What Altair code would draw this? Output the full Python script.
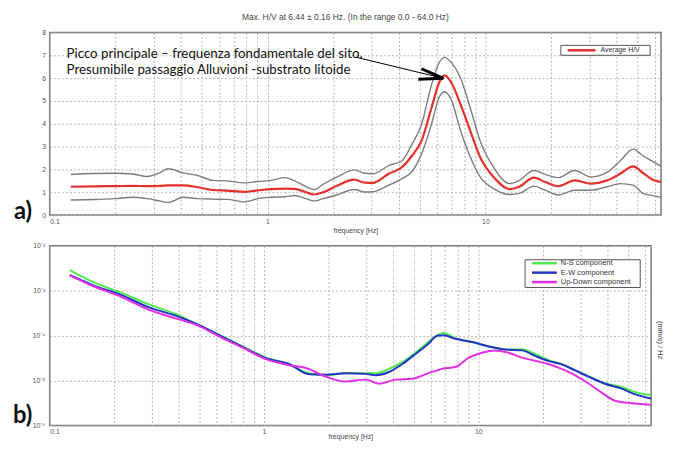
import math
import altair as alt
import pandas as pd

# ---------------- Panel a) : H/V ratio ----------------
hv_freq = [0.125, 0.16, 0.2, 0.24, 0.28, 0.32, 0.35, 0.41, 0.48, 0.56, 0.65, 0.79, 0.9,
           1.04, 1.2, 1.33, 1.5, 1.64, 1.8, 2.08, 2.5, 2.8, 3.04, 3.6, 4.14, 4.6, 5.09,
           5.65, 6.15, 6.5, 6.95, 7.7, 8.53, 9.46, 10.9, 12.9, 14.3, 16.7, 18.8, 21.6,
           25.7, 30.5, 36.3, 41.6, 47.7, 52.9, 58.6, 64.0]
hv_avg = [1.24, 1.26, 1.27, 1.28, 1.27, 1.28, 1.30, 1.30, 1.22, 1.10, 1.07, 1.02, 1.08,
          1.14, 1.16, 1.15, 1.00, 0.90, 1.00, 1.28, 1.55, 1.42, 1.41, 1.81, 2.10, 2.60, 3.25,
          4.68, 5.83, 6.12, 5.83, 4.83, 3.68, 2.53, 1.67, 1.14, 1.24, 1.64, 1.45, 1.27,
          1.52, 1.38, 1.52, 1.81, 2.13, 1.84, 1.55, 1.45]
hv_upper = [1.78, 1.82, 1.83, 1.80, 1.69, 1.85, 2.03, 1.85, 1.73, 1.52, 1.50, 1.41, 1.47,
            1.52, 1.64, 1.50, 1.25, 1.12, 1.35, 1.66, 1.98, 1.83, 1.81, 2.17, 2.38, 3.10, 3.97,
            5.69, 6.70, 6.91, 6.70, 5.98, 4.68, 3.25, 2.10, 1.38, 1.52, 1.95, 1.78, 1.64,
            1.95, 1.67, 1.88, 2.38, 2.89, 2.60, 2.35, 2.13]
hv_lower = [0.66, 0.68, 0.72, 0.78, 0.72, 0.62, 0.55, 0.78, 0.72, 0.70, 0.69, 0.58, 0.72,
            0.78, 0.80, 0.86, 0.72, 0.62, 0.72, 0.88, 1.12, 1.01, 1.02, 1.31, 1.60, 1.90, 2.67,
            3.97, 5.19, 5.40, 5.08, 3.68, 2.53, 1.67, 1.16, 0.90, 0.95, 1.27, 1.09, 0.88,
            1.09, 1.09, 1.24, 1.38, 1.31, 0.95, 0.85, 0.78]
hv_names = ["Average H/V"]
hv_title = "Max. H/V at 6.44 \u00b1 0.16 Hz. (In the range 0.0 - 64.0 Hz)"
note_lines = ["Picco principale \u2013 frequenza fondamentale del sito.",
              "Presumibile passaggio Alluvioni -substrato litoide"]
# arrow (frequency, H/V): main shaft and the two arms of the head
arrow_f1 = [2.56, 5.09, 4.92]
arrow_v1 = [6.91, 6.41, 5.95]
arrow_f2 = [6.41, 6.41, 6.41]
arrow_v2 = [5.99, 5.99, 5.99]
arrow_w = [1.0, 3.0, 3.0]

# ---------------- Panel b) : spectra ----------------
ns_freq = [0.124, 0.16, 0.212, 0.293, 0.39, 0.483, 0.643, 0.795, 1.02, 1.31, 1.62, 1.94,
           2.4, 2.98, 3.32, 3.83, 4.42, 5.09, 5.88, 6.43, 6.9, 7.82, 9.35, 11.2, 13.4, 16.0,
           18.4, 21.2, 24.5, 28.2, 32.6, 39.0, 46.6, 53.7, 64.0]
ns_vals = [2.88e-3, 1.55e-3, 9.3e-4, 4.9e-4, 3.0e-4, 1.82e-4, 9.5e-5, 5.75e-5, 3.24e-5,
           2.29e-5, 1.45e-5, 1.32e-5, 1.45e-5, 1.45e-5, 1.45e-5, 1.82e-5, 2.57e-5, 4.17e-5,
           7.4e-5, 1.02e-4, 1.15e-4, 8.7e-5, 7.2e-5, 5.75e-5, 4.9e-5, 5.0e-5, 3.9e-5, 2.88e-5,
           2.34e-5, 1.7e-5, 1.26e-5, 8.7e-6, 7.2e-6, 5.6e-6, 4.7e-6]
ew_freq = ns_freq
ew_vals = [2.24e-3, 1.32e-3, 8.3e-4, 4.2e-4, 2.75e-4, 1.82e-4, 9.3e-5, 5.6e-5, 3.16e-5,
           2.34e-5, 1.38e-5, 1.35e-5, 1.45e-5, 1.41e-5, 1.32e-5, 1.55e-5, 2.34e-5, 3.9e-5,
           6.8e-5, 1.0e-4, 1.02e-4, 8.5e-5, 7.2e-5, 5.75e-5, 4.9e-5, 4.7e-5, 3.55e-5, 2.75e-5,
           2.29e-5, 1.7e-5, 1.23e-5, 8.5e-6, 6.6e-6, 5.0e-6, 4.0e-6]
ud_freq = [0.124, 0.16, 0.212, 0.293, 0.39, 0.483, 0.643, 0.795, 1.02, 1.31, 1.57, 1.94,
           2.4, 2.98, 3.44, 4.11, 4.92, 5.88, 6.78, 7.82, 9.02, 10.4, 12.0, 13.8, 16.0, 18.4,
           21.2, 24.5, 28.2, 32.6, 37.6, 43.4, 50.0, 64.0]
ud_vals = [2.24e-3, 1.26e-3, 7.6e-4, 3.7e-4, 2.4e-4, 1.74e-4, 8.7e-5, 5.4e-5, 3.0e-5,
           2.19e-5, 1.9e-5, 1.23e-5, 9.5e-6, 1.05e-5, 8.5e-6, 1.05e-5, 1.1e-5, 1.48e-5,
           1.82e-5, 2.0e-5, 3.24e-5, 4.17e-5, 4.7e-5, 4.17e-5, 3.24e-5, 2.75e-5, 2.34e-5,
           1.82e-5, 1.32e-5, 8.7e-6, 5.4e-6, 3.55e-6, 3.2e-6, 2.9e-6]
spec_names = ["N-S component", "E-W component", "Up-Down component"]
spec_colors = ["#4cec4c", "#2434c4", "#e42de4"]
spec_unit = "(mm/s) / Hz"

# ---------------- axes ----------------
x_ticks = [0.1, 0.2, 0.3, 0.4, 0.5, 0.6, 0.7, 0.8, 0.9, 1, 2, 3, 4, 5, 6, 7, 8, 9,
           10, 20, 30, 40, 50, 60]
x_labelled = [0.1, 1, 10]
hv_ticks = [0, 1, 2, 3, 4, 5, 6, 7, 8]
sp_ticks = [1e-6, 1e-5, 1e-4, 1e-3, 1e-2]
sp_tick_labels = ["10\u207b\u2076", "10\u207b\u2075", "10\u207b\u2074", "10\u207b\u00b3", "10\u207b\u00b2"]

FONT = "Liberation Sans"
W1, H1 = 616, 184
W2, H2 = 606, 181

x_expr = " || ".join(f"datum.value == {v}" for v in x_labelled) + " ? datum.label : ''"
y2_expr = "''"
for v, lab in zip(sp_ticks, sp_tick_labels):
    y2_expr = f"abs(log(datum.value)/LN10 - ({round(math.log10(v))})) < 0.1 ? '{lab}' : " + y2_expr

x_scale = alt.Scale(type="log", domain=[0.1, 64], nice=False)
x_axis_top = alt.Axis(values=x_ticks, format="~g", labelExpr=x_expr, title="frequency [Hz]",
                      titlePadding=3, labelPadding=2)
x_axis_bot = alt.Axis(values=x_ticks, format="~g", labelExpr=x_expr, title="frequency [Hz]",
                      titlePadding=-2, labelPadding=2)

# ---------- top ----------
df_hv = pd.concat([
    pd.DataFrame({"freq": hv_freq, "value": hv_upper, "series": "upper"}),
    pd.DataFrame({"freq": hv_freq, "value": hv_lower, "series": "lower"}),
])
df_avg = pd.DataFrame({"freq": hv_freq, "value": hv_avg, "series": hv_names[0]})

X1 = alt.X("freq:Q", scale=x_scale, axis=x_axis_top)
Y1 = alt.Y("value:Q", scale=alt.Scale(domain=[0, 8], nice=False),
           axis=alt.Axis(values=hv_ticks, title=None, labelPadding=4))

band = alt.Chart(df_hv).mark_line(color="#7d7d7d", strokeWidth=1.4, interpolate="monotone").encode(
    x=X1, y=Y1, detail="series:N")
avg = alt.Chart(df_avg).mark_line(color="#e5302c", strokeWidth=2.2, interpolate="monotone").encode(
    x=X1, y=Y1)

df_arrow = pd.DataFrame({"freq": arrow_f1, "value": arrow_v1, "freq2": arrow_f2,
                         "value2": arrow_v2, "w": arrow_w})
arrow = alt.Chart(df_arrow).mark_rule(color="black").encode(
    x=X1, y=Y1, x2="freq2:Q", y2="value2:Q",
    strokeWidth=alt.StrokeWidth("w:Q", scale=None, legend=None))

df_note = pd.DataFrame({"t": note_lines, "py": [22, 38]})
note = alt.Chart(df_note).mark_text(align="left", baseline="middle", font="Lato",
                                    fontSize=13.4, color="#111").encode(
    x=alt.value(17), y=alt.Y("py:Q", scale=None), text="t:N")

leg1_box = alt.Chart(pd.DataFrame({"n": hv_names})).mark_rect(
    fill="white", stroke="#555", strokeWidth=1).encode(
    x=alt.value(W1 - 101), x2=alt.value(W1 - 11), y=alt.value(13), y2=alt.value(23))
leg1_line = alt.Chart(pd.DataFrame({"n": hv_names})).mark_rule(
    color="#e5302c", strokeWidth=2.5).encode(
    x=alt.value(W1 - 94), x2=alt.value(W1 - 66), y=alt.value(18))
leg1_text = alt.Chart(pd.DataFrame({"n": hv_names})).mark_text(
    align="left", baseline="middle", font=FONT, fontSize=7, color="#333").encode(
    x=alt.value(W1 - 61), y=alt.value(18), text="n:N")

lab_a = alt.Chart(pd.DataFrame({"t": ["a)"]})).mark_text(
    align="left", baseline="middle", font="Lato", fontWeight="bold", fontSize=24,
    color="#111").encode(x=alt.value(-36), y=alt.value(H1 - 3), text="t:N")

top = alt.layer(band, avg, arrow, note, leg1_box, leg1_line, leg1_text, lab_a).properties(
    width=W1, height=H1,
    title=alt.TitleParams(hv_title, font=FONT, fontSize=8.5, fontWeight="normal",
                          color="#444", offset=7, anchor="middle", dx=-10))

# ---------- bottom ----------
df_sp = pd.concat([
    pd.DataFrame({"freq": ns_freq, "value": ns_vals, "series": spec_names[0]}),
    pd.DataFrame({"freq": ew_freq, "value": ew_vals, "series": spec_names[1]}),
    pd.DataFrame({"freq": ud_freq, "value": ud_vals, "series": spec_names[2]}),
])
color = alt.Color("series:N", scale=alt.Scale(domain=spec_names, range=spec_colors), legend=None)
X2 = alt.X("freq:Q", scale=x_scale, axis=x_axis_bot)
Y2 = alt.Y("value:Q", scale=alt.Scale(type="log", domain=[1e-6, 1e-2], nice=False),
           axis=alt.Axis(values=sp_ticks, labelExpr=y2_expr, title=None, labelPadding=5))

spec = alt.Chart(df_sp).mark_line(strokeWidth=2, interpolate="monotone").encode(
    x=X2, y=Y2, color=color)

leg2_box = alt.Chart(pd.DataFrame({"n": ["box"]})).mark_rect(
    fill="white", stroke="#555", strokeWidth=1).encode(
    x=alt.value(W2 - 127), x2=alt.value(W2 - 11), y=alt.value(14), y2=alt.value(42))
leg2 = []
for i, name in enumerate(spec_names):
    ypix = 17.5 + 9.5 * i
    d = pd.DataFrame({"series": [name]})
    leg2.append(alt.Chart(d).mark_rule(strokeWidth=2.5).encode(
        x=alt.value(W2 - 120), x2=alt.value(W2 - 95), y=alt.value(ypix), color=color))
    leg2.append(alt.Chart(d).mark_text(align="left", baseline="middle", font=FONT,
                                       fontSize=7.5, color="#333").encode(
        x=alt.value(W2 - 91), y=alt.value(ypix), text="series:N"))

unit = alt.Chart(pd.DataFrame({"t": [spec_unit]})).mark_text(
    angle=90, align="center", baseline="middle", font=FONT, fontSize=7.5, color="#444").encode(
    x=alt.value(W2 + 9), y=alt.value(95), text="t:N")

lab_b = alt.Chart(pd.DataFrame({"t": ["b)"]})).mark_text(
    align="left", baseline="middle", font="Lato", fontWeight="bold", fontSize=24,
    color="#111").encode(x=alt.value(-37), y=alt.value(H2 - 9), text="t:N")

bottom = alt.layer(spec, leg2_box, *leg2, unit, lab_b).properties(width=W2, height=H2)

chart = alt.vconcat(top, bottom, spacing=6).properties(
    padding={"left": 4, "top": 2, "right": 0, "bottom": 0}
).configure_view(
    stroke="#777777", strokeWidth=1.5
).configure_axis(
    labelFont=FONT, labelFontSize=7, labelColor="#555", ticks=False, domain=False,
    grid=True, gridColor="#b4b4b4", gridDash=[2, 2], gridWidth=1,
    titleFont=FONT, titleFontSize=7, titleFontWeight="normal", titleColor="#444"
)

chart.save("out.html", embed_options={"renderer": "svg", "actions": False})
